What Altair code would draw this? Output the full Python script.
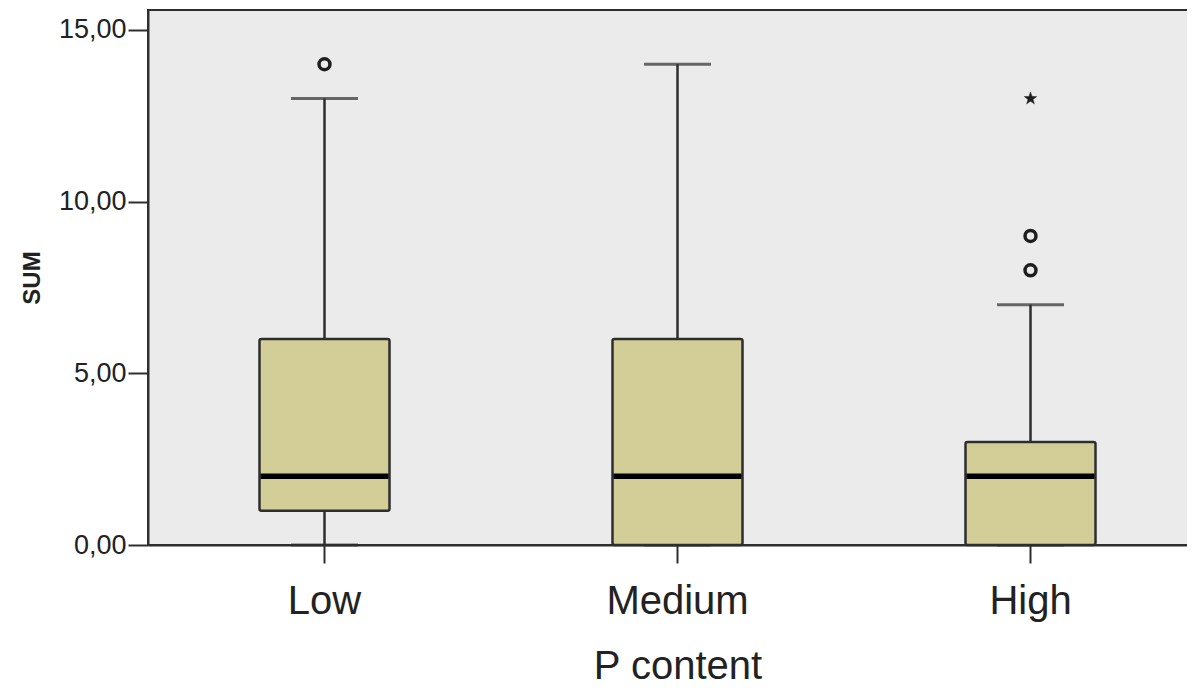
import altair as alt
import pandas as pd

# ---- data ----
categories = ["Low", "Medium", "High"]
whisker_low = [0, 0, 0]
q1 = [1, 0, 0]
median = [2, 2, 2]
q3 = [6, 6, 3]
whisker_high = [13, 14, 7]

outlier_cat = ["Low", "High", "High"]
outlier_val = [14, 9, 8]

extreme_cat = ["High"]
extreme_val = [13]

y_ticks = [0, 5, 10, 15]

box_df = pd.DataFrame({
    "cat": categories,
    "lo": whisker_low,
    "q1": q1,
    "med": median,
    "q3": q3,
    "hi": whisker_high,
})
out_df = pd.DataFrame({"cat": outlier_cat, "v": outlier_val})
ext_df = pd.DataFrame({"cat": extreme_cat, "v": extreme_val})

FONT = "Liberation Sans"
DARK = "#2e2e2e"

x_scale = alt.Scale(domain=categories, paddingInner=0, paddingOuter=0)


def xe(with_axis=False):
    if with_axis:
        return alt.X(
            "cat:N",
            sort=categories,
            scale=x_scale,
            axis=alt.Axis(
                title="P content",
                labelAngle=0,
                labelFont=FONT,
                labelFontSize=40,
                labelColor="#222222",
                labelPadding=18,
                titleFont=FONT,
                titleFontSize=40,
                titleFontWeight="normal",
                titleColor="#222222",
                titlePadding=25,
                tickSize=18,
                tickWidth=2,
                tickColor=DARK,
                domainColor=DARK,
                domainWidth=2,
                grid=False,
            ),
        )
    return alt.X("cat:N", sort=categories, scale=x_scale)


y_scale = alt.Scale(domain=[0, 15.58], nice=False, zero=True)
y_axis = alt.Axis(
    title="SUM",
    values=y_ticks,
    labelExpr="replace(format(datum.value, '.2f'), '.', ',')",
    labelFont=FONT,
    labelFontSize=27,
    labelColor="#222222",
    labelPadding=2,
    titleFont=FONT,
    titleFontSize=24,
    titleFontWeight="bold",
    titleColor="#222222",
    titlePadding=14,
    tickSize=20,
    tickWidth=2,
    tickColor=DARK,
    domainColor=DARK,
    domainWidth=2,
    grid=False,
)

base = alt.Chart(box_df)

whisker = base.mark_rule(color=DARK, strokeWidth=2.5).encode(
    x=xe(True),
    y=alt.Y("lo:Q", scale=y_scale, axis=y_axis),
    y2="hi:Q",
)

caps_hi = base.mark_tick(color=DARK, size=67, thickness=3).encode(
    x=xe(), y="hi:Q"
)
caps_lo = base.mark_tick(color=DARK, size=67, thickness=3).encode(
    x=xe(), y="lo:Q"
)

box = base.mark_bar(
    size=130, fill="#d3ce97", stroke=DARK, strokeWidth=2.5, cornerRadius=2
).encode(x=xe(), y="q1:Q", y2="q3:Q")

med = base.mark_tick(color="#000000", size=128, thickness=5.5, opacity=1).encode(
    x=xe(), y="med:Q"
)

outliers = alt.Chart(out_df).mark_point(
    shape="circle", size=120, filled=False, stroke="#1e1e1e", strokeWidth=3.5, opacity=1
).encode(x=xe(), y="v:Q")

star_path = (
    "M0,-1L0.235,-0.324L0.951,-0.309L0.380,0.124L0.588,0.809L0,0.4"
    "L-0.588,0.809L-0.380,0.124L-0.951,-0.309L-0.235,-0.324Z"
)
extremes = alt.Chart(ext_df).mark_point(
    shape=star_path, size=170, filled=True, fill="#1e1e1e", stroke="#1e1e1e",
    strokeWidth=0.5, opacity=1
).encode(x=xe(), y="v:Q")

chart = (
    alt.layer(whisker, caps_lo, caps_hi, box, med, outliers, extremes)
    .properties(
        width=1059,
        height=535,
        autosize=alt.AutoSizeParams(type="none"),
        padding={"left": 140, "top": 2, "right": -20, "bottom": 144},
        background="#ffffff",
    )
    .configure_view(fill="#ebebeb", stroke=DARK, strokeWidth=2)
)

chart.save("out.html", embed_options={"renderer": "svg", "actions": False})
